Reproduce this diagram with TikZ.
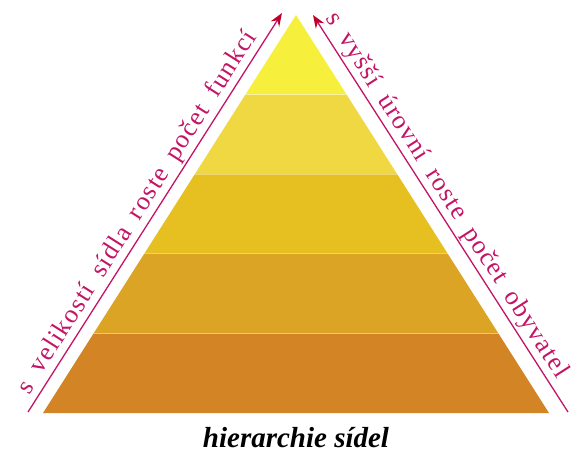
\documentclass[tikz,border=0pt]{standalone}
\usepackage{fontspec}
\setmainfont{Liberation Serif}
\newfontfamily\sidefont[LetterSpace=5]{Liberation Serif}
\newcommand\sidetextfont{\sidefont\fontsize{26}{28}\selectfont\spaceskip=14pt\relax}
\usetikzlibrary{arrows.meta,calc,positioning}
\definecolor{bandA}{HTML}{F6F03C}
\definecolor{bandB}{HTML}{EFD842}
\definecolor{bandC}{HTML}{E6C020}
\definecolor{bandD}{HTML}{DCA424}
\definecolor{bandE}{HTML}{D38526}
\definecolor{sidepink}{HTML}{C41466}
\definecolor{tipred}{HTML}{C0002E}

\begin{document}
\begin{tikzpicture}[x=1pt,y=-1pt,
  sidearrow/.style={sidepink,line width=1.3pt,-{Stealth[length=13pt,width=10pt,color=tipred]}},
  sidetext/.style={sidepink,font=\sidetextfont,inner sep=2pt}]
  \useasboundingbox (0,0) rectangle (576,455);
  \coordinate (apex) at (296,15);
  \coordinate (baseL) at (43,413);
  \coordinate (baseR) at (549,413);
  % pyramid bands
  \foreach \k/\c in {0/bandA,1/bandB,2/bandC,3/bandD,4/bandE} {
    \pgfmathsetmacro\ta{\k/5}
    \pgfmathsetmacro\tb{(\k+1)/5}
    \fill[\c] ($(apex)!\ta!(baseL)$) -- ($(apex)!\tb!(baseL)$)
      -- ($(apex)!\tb!(baseR)$) -- ($(apex)!\ta!(baseR)$) -- cycle;
  }
  \foreach \k in {1,2,3,4} {
    \pgfmathsetmacro\ta{\k/5}
    \draw[white,opacity=0.35,line width=0.8pt] ($(apex)!\ta!(baseL)$) -- ($(apex)!\ta!(baseR)$);
  }
  % side arrows
  \coordinate (lS) at (28,412);
  \coordinate (lE) at (282,13);
  \coordinate (rS) at (568,412);
  \coordinate (rE) at (313,15);
  \draw[sidearrow] (lS) -- (lE) node[sidetext,pos=0.48,sloped,above] (ltext) {s velikostí sídla roste počet funkcí};
  \draw[sidearrow] (rS) -- (rE) node[sidetext,pos=0.525,sloped,above] (rtext) {s vyšší úrovní roste počet obyvatel};
  \node[font=\bfseries\itshape\fontsize{29}{31}\selectfont] (title) at (296,438) {hierarchie sídel};
\end{tikzpicture}
\end{document}
